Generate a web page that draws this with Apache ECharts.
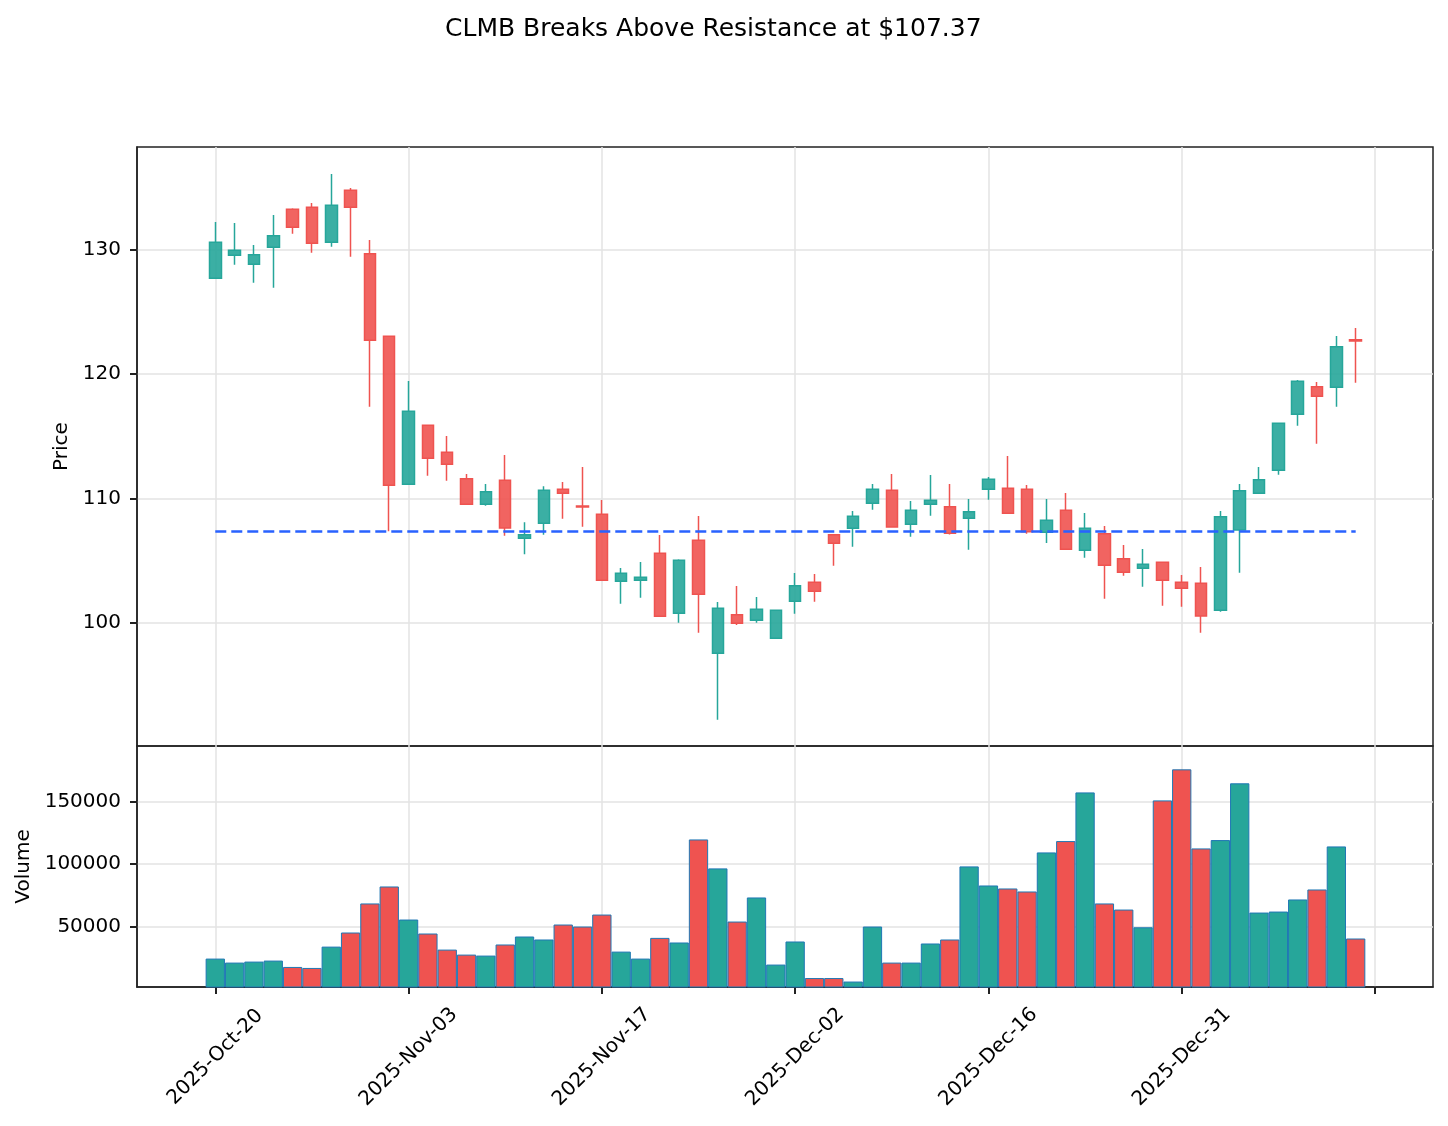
<!DOCTYPE html>
<html>
<head>
<meta charset="utf-8">
<script src="https://cdn.jsdelivr.net/npm/echarts@6/dist/echarts.min.js"></script>
<style>
html,body{margin:0;padding:0;background:#fff;}
#chart{width:1448px;height:1126px;}
</style>
</head>
<body>
<div id="chart"></div>
<script>
// trading days shown on the chart
var dates = ['2025-10-20','2025-10-21','2025-10-22','2025-10-23','2025-10-24','2025-10-27','2025-10-28','2025-10-29','2025-10-30','2025-10-31',
    '2025-11-03','2025-11-04','2025-11-05','2025-11-06','2025-11-07','2025-11-10','2025-11-11','2025-11-12','2025-11-13','2025-11-14',
    '2025-11-17','2025-11-18','2025-11-19','2025-11-20','2025-11-21','2025-11-24','2025-11-25','2025-11-26','2025-11-28','2025-12-01',
    '2025-12-02','2025-12-03','2025-12-04','2025-12-05','2025-12-08','2025-12-09','2025-12-10','2025-12-11','2025-12-12','2025-12-15',
    '2025-12-16','2025-12-17','2025-12-18','2025-12-19','2025-12-22','2025-12-23','2025-12-24','2025-12-26','2025-12-29','2025-12-30',
    '2025-12-31','2026-01-02','2026-01-05','2026-01-06','2026-01-07','2026-01-08','2026-01-09','2026-01-12','2026-01-13','2026-01-14'];
var opens = [127.71,129.56,128.83,130.20,133.26,133.42,130.60,134.79,129.69,123.04,
    111.13,115.88,113.71,111.58,109.53,111.46,106.79,108.00,110.73,109.39,
    108.72,103.33,103.41,105.58,100.76,106.63,97.54,100.64,100.19,98.74,
    101.72,103.25,107.08,107.59,109.61,110.65,107.92,109.53,109.33,108.40,
    110.73,110.81,110.73,107.27,109.04,105.82,107.16,105.15,104.38,104.86,
    103.25,103.17,101.00,107.46,110.41,112.26,116.77,118.99,118.94,122.76];
var closes = [130.60,129.96,129.61,131.13,131.81,130.52,133.58,133.42,122.72,111.05,
    117.01,113.23,112.74,109.53,110.54,107.62,107.08,110.65,110.41,109.31,
    103.41,103.97,103.65,100.51,105.02,102.28,101.16,99.95,101.08,101.00,
    102.98,102.53,106.39,108.56,110.73,107.70,109.04,109.85,107.19,108.93,
    111.54,108.80,107.32,108.24,105.90,107.59,104.62,104.05,104.70,103.41,
    102.77,100.54,108.53,110.62,111.50,116.04,119.42,118.21,122.20,122.67];
var lows = [127.65,128.80,127.35,126.95,131.30,129.77,130.25,129.44,117.38,107.35,
    111.10,111.83,111.42,109.50,109.41,107.00,105.50,107.08,108.37,107.72,
    103.38,101.53,102.01,100.48,100.00,99.20,92.20,99.81,100.00,98.70,
    100.72,101.69,104.59,106.11,109.09,107.66,106.92,108.61,107.10,105.87,
    109.90,108.76,107.16,106.41,105.86,105.23,101.93,103.78,102.90,101.37,
    101.29,99.20,100.88,104.02,110.38,111.91,115.85,114.40,117.38,119.31];
var highs = [132.24,132.16,130.39,132.80,133.34,133.77,136.10,134.97,130.79,123.08,
    119.45,115.92,115.02,111.96,111.16,113.49,108.08,110.97,111.32,112.53,
    109.87,104.40,104.88,107.06,105.10,108.58,101.67,102.95,102.07,101.03,
    104.00,103.92,107.14,108.99,111.16,111.96,109.79,111.88,111.16,109.95,
    111.72,113.41,111.08,109.95,110.43,108.83,107.78,106.25,105.93,104.90,
    103.84,104.48,108.99,111.16,112.53,116.08,119.53,119.36,123.07,123.71];
var volumes = [24300,21100,21900,22700,17600,16800,33900,45200,68500,82100,
    55600,44400,31500,27500,26700,35600,42000,39600,51600,50000,
    59600,29900,24300,40900,37200,119800,96600,54000,73300,19500,
    38000,8700,8700,5900,50000,21100,21100,36400,39600,98200,
    82900,80500,78100,109400,118500,157500,68500,63600,49400,151100,
    176000,112600,119300,164800,61200,62000,71700,79700,114200,40400];
var resistance = 107.37;
var priceTicks = [100, 110, 120, 130];
var volumeTicks = [50000, 100000, 150000];
var dateTickIndex = [0, 10, 20, 30, 40, 50];
var xTickIndex = [0, 10, 20, 30, 40, 50, 60];

var upColor = '#26a69a';
var downColor = '#ef5350';
var font = 'DejaVu Sans';
var monthNames = ['Jan','Feb','Mar','Apr','May','Jun','Jul','Aug','Sep','Oct','Nov','Dec'];

function dateLabel(v) {
    var d = dates[Math.round(v)];
    if (!d) return '';
    var p = d.split('-');
    return p[0] + '-' + monthNames[parseInt(p[1], 10) - 1] + '-' + p[2];
}

var candleData = [];
var volumeData = [];
for (var i = 0; i < dates.length; i++) {
    candleData.push([i, opens[i], closes[i], lows[i], highs[i]]);
    volumeData.push({
        value: [i, volumes[i]],
        itemStyle: {color: closes[i] >= opens[i] ? upColor : downColor}
    });
}

var gridLine = {show: true, lineStyle: {color: '#e3e3e3', width: 1.5}};
var frameColor = '#222';
var axisLine = {show: true, onZero: false, lineStyle: {color: frameColor, width: 1.5}};
var tickStyle = {show: true, inside: false, length: 7, lineStyle: {color: frameColor, width: 2}};

var myChart = echarts.init(document.getElementById('chart'));
var option = {
    animation: false,
    backgroundColor: '#fff',
    title: {
        text: 'CLMB Breaks Above Resistance at $107.37',
        left: 440,
        top: 12,
        textStyle: {fontFamily: font, fontSize: 25, fontWeight: 'normal', color: '#000'}
    },
    grid: [
        {left: 137, width: 1296, top: 147, height: 599, show: true, borderColor: frameColor, borderWidth: 1.5, backgroundColor: 'transparent'},
        {left: 137, width: 1296, top: 746, height: 241, show: true, borderColor: frameColor, borderWidth: 1.5, backgroundColor: 'transparent'}
    ],
    xAxis: [
        {
            type: 'value', gridIndex: 0, min: -4.05, max: 63,
            axisLine: {show: false, onZero: false},
            axisTick: {show: false, customValues: xTickIndex},
            axisLabel: {show: false, customValues: xTickIndex},
            splitLine: gridLine
        },
        {
            type: 'value', gridIndex: 1, min: -4.05, max: 63,
            axisLine: axisLine,
            axisTick: echarts.util.extend({customValues: xTickIndex}, tickStyle),
            axisLabel: {
                customValues: dateTickIndex,
                formatter: dateLabel,
                rotate: 45,
                align: 'center',
                verticalAlign: 'middle',
                margin: 70,
                fontFamily: font, fontSize: 20, color: '#000'
            },
            splitLine: gridLine
        }
    ],
    yAxis: [
        {
            type: 'value', gridIndex: 0, position: 'left', min: 90.08, max: 138.27,
            name: 'Price', nameLocation: 'middle', nameGap: 54,
            nameTextStyle: {fontFamily: font, fontSize: 20, color: '#000'},
            axisLine: axisLine,
            axisTick: echarts.util.extend({customValues: priceTicks}, tickStyle),
            axisLabel: {customValues: priceTicks, margin: 16, fontFamily: font, fontSize: 20, color: '#000'},
            splitLine: gridLine
        },
        {
            type: 'value', gridIndex: 1, position: 'left', min: 1525, max: 194705,
            name: 'Volume', nameLocation: 'middle', nameGap: 103,
            nameTextStyle: {fontFamily: font, fontSize: 20, color: '#000'},
            axisLine: axisLine,
            axisTick: echarts.util.extend({customValues: volumeTicks}, tickStyle),
            axisLabel: {
                customValues: volumeTicks, margin: 16,
                formatter: function (v) { return String(v); },
                fontFamily: font, fontSize: 20, color: '#000'
            },
            splitLine: gridLine
        }
    ],
    series: [
        {
            name: 'CLMB',
            type: 'candlestick',
            xAxisIndex: 0, yAxisIndex: 0,
            barWidth: 12,
            data: candleData,
            itemStyle: {
                color: 'rgba(38,166,154,0.9)',
                color0: 'rgba(239,83,80,0.9)',
                borderColor: upColor,
                borderColor0: downColor,
                borderWidth: 1.5
            },
            markLine: {
                silent: true,
                symbol: ['none', 'none'],
                label: {show: false},
                lineStyle: {color: '#2962ff', type: [11, 5], width: 2.7},
                data: [[{coord: [0, resistance]}, {coord: [dates.length - 1, resistance]}]]
            }
        },
        {
            name: 'Volume',
            type: 'bar',
            xAxisIndex: 1, yAxisIndex: 1,
            barWidth: 19.3,
            data: volumeData,
            itemStyle: {borderColor: '#1f77b4', borderWidth: 1}
        }
    ]
};
myChart.setOption(option, true);
</script>
</body>
</html>
